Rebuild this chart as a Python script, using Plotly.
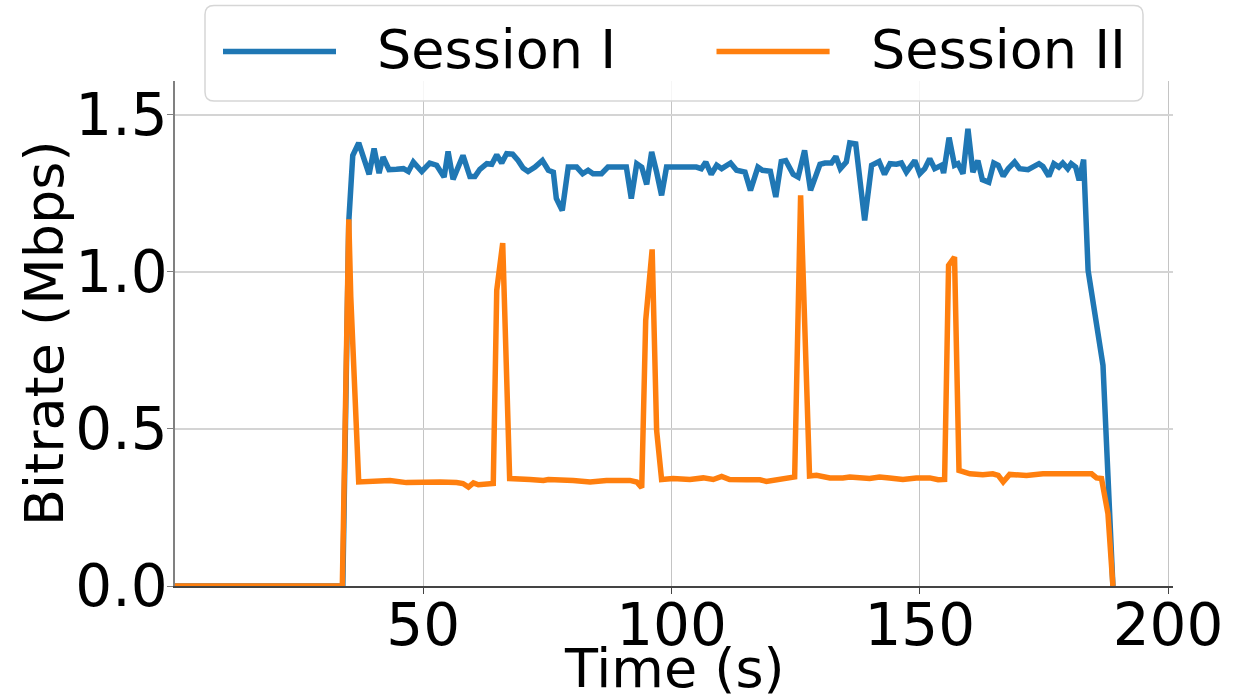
import plotly.graph_objects as go

# ---- data ----
time_s1 = [0, 33.8, 35.0, 35.8, 37.0, 39.1, 40.1, 41.1, 41.9, 43.1, 44.6, 46.0, 47.0, 48.0,
           49.7, 51.3, 52.7, 54.2, 55.0, 56.0, 58.0, 59.4, 60.4, 61.4, 62.8, 63.8, 64.8, 65.8,
           66.8, 68.0, 69.1, 70.1, 71.1, 72.5, 74.0, 75.2, 76.2, 76.8, 78.0, 79.2, 80.9, 82.1,
           83.2, 84.2, 85.9, 87.2, 90.9, 91.9, 93.0, 94.0, 95.0, 96.0, 97.0, 98.0, 99.0, 105.0,
           106.0, 106.9, 108.0, 109.1, 110.1, 111.9, 113.1, 114.8, 115.9, 117.4, 118.3, 119.1,
           119.9, 121.0, 122.1, 123.0, 124.5, 125.5, 126.8, 128.0, 129.9, 130.9, 132.2, 133.1,
           134.0, 135.2, 135.9, 137.1, 138.9, 140.3, 141.8, 142.9, 144.0, 145.3, 146.3, 147.3,
           149.0, 150.0, 151.0, 152.0, 153.0, 154.4, 154.8, 155.9, 157.0, 157.7, 158.7, 159.7,
           160.7, 161.7, 162.6, 163.9, 164.9, 165.8, 166.8, 167.8, 169.1, 170.1, 171.8, 174.0,
           174.8, 176.0, 177.0, 178.0, 178.8, 179.8, 180.5, 181.4, 182.1, 183.0, 183.9, 186.9,
           188.9]
rate_s1 = [0, 0, 1.16, 1.37, 1.41, 1.31, 1.392, 1.314, 1.365, 1.325, 1.326, 1.328, 1.319, 1.349,
           1.319, 1.346, 1.339, 1.301, 1.383, 1.294, 1.37, 1.303, 1.303, 1.326, 1.344, 1.342,
           1.372, 1.346, 1.376, 1.374, 1.354, 1.33, 1.319, 1.333, 1.354, 1.323, 1.317, 1.233,
           1.195, 1.333, 1.333, 1.312, 1.323, 1.312, 1.312, 1.333, 1.333, 1.233, 1.344, 1.333,
           1.278, 1.381, 1.317, 1.243, 1.333, 1.333, 1.328, 1.349, 1.31, 1.339, 1.328, 1.346,
           1.323, 1.317, 1.259, 1.333, 1.323, 1.32, 1.32, 1.238, 1.351, 1.354, 1.31, 1.301,
           1.386, 1.259, 1.342, 1.346, 1.346, 1.367, 1.328, 1.349, 1.41, 1.407, 1.163, 1.339,
           1.351, 1.31, 1.344, 1.342, 1.346, 1.317, 1.354, 1.312, 1.328, 1.36, 1.328, 1.339,
           1.314, 1.427, 1.339, 1.344, 1.312, 1.455, 1.317, 1.354, 1.293, 1.285, 1.346, 1.339,
           1.304, 1.328, 1.349, 1.328, 1.325, 1.344, 1.335, 1.304, 1.344, 1.333, 1.346, 1.328,
           1.344, 1.333, 1.291, 1.357, 1.004, 0.702, 0]

time_s2 = [0, 33.7, 35.0, 35.4, 37.0, 39.9, 43.3, 46.6, 50.0, 53.4, 56.7, 58.0, 59.1, 60.1,
           61.1, 64.1, 64.8, 66.0, 67.4, 68.8, 71.5, 74.2, 75.2, 80.2, 83.6, 86.9, 91.6, 93.0,
           94.0, 94.8, 96.1, 97.0, 98.0, 100.3, 103.7, 106.4, 108.4, 110.1, 111.7, 115.1, 117.8,
           119.1, 122.5, 124.8, 126.0, 127.8, 129.2, 131.9, 134.5, 135.9, 139.9, 141.9, 143.9,
           146.6, 149.3, 152.0, 153.7, 155.0, 155.8, 157.0, 157.9, 160.1, 162.7, 164.7, 165.8,
           166.8, 168.1, 171.5, 174.8, 178.2, 181.5, 184.6, 185.6, 186.6, 187.9, 188.9]
rate_s2 = [0, 0, 1.167, 0.92, 0.331, 0.333, 0.336, 0.329, 0.331, 0.331, 0.329, 0.326, 0.315,
           0.328, 0.322, 0.326, 0.941, 1.091, 0.342, 0.342, 0.339, 0.336, 0.339, 0.336, 0.331,
           0.336, 0.336, 0.331, 0.313, 0.845, 1.071, 0.495, 0.339, 0.342, 0.339, 0.344, 0.339,
           0.349, 0.339, 0.338, 0.338, 0.333, 0.339, 0.347, 1.243, 0.35, 0.352, 0.344, 0.344,
           0.347, 0.342, 0.347, 0.344, 0.339, 0.344, 0.344, 0.338, 0.339, 1.02, 1.047, 0.368,
           0.357, 0.354, 0.357, 0.352, 0.331, 0.355, 0.352, 0.357, 0.355, 0.357, 0.357, 0.344,
           0.342, 0.23, 0]

series_names = ["Session I", "Session II"]
series_colors = ["#1f77b4", "#ff7f0e"]
x_ticks = [50, 100, 150, 200]
y_ticks = [0.0, 0.5, 1.0, 1.5]
x_title = "Time (s)"
y_title = "Bitrate (Mbps)"

# ---- figure ----
W, H = 1239, 700
L, R, T, B = 175, 66, 81, 114
FONT = "DejaVu Sans"

fig = go.Figure()
for t, v, name, col in zip([time_s1, time_s2], [rate_s1, rate_s2], series_names, series_colors):
    fig.add_trace(go.Scatter(x=t, y=v, mode="lines", name=name,
                             line=dict(color=col, width=5.5), showlegend=False))

fig.update_layout(
    width=W, height=H,
    margin=dict(l=L, r=R, t=T, b=B, autoexpand=False),
    paper_bgcolor="white", plot_bgcolor="white",
    font=dict(family=FONT, color="black"),
)
fig.update_xaxes(range=[0, 201], tickvals=x_ticks, showgrid=True, gridcolor="#c4c4c4",
                 gridwidth=1, showline=True, linecolor="#444444", linewidth=1.6,
                 ticks="outside", ticklen=6, tickcolor="#444444", tickwidth=1.3,
                 zeroline=False, automargin=False, ticklabelstandoff=-18,
                 tickfont=dict(size=58, family=FONT))
fig.update_yaxes(range=[0, 1.607], tickvals=y_ticks, tickformat=".1f", showgrid=True,
                 gridcolor="#d4d4d4", gridwidth=1.5, showline=True, linecolor="#808080",
                 linewidth=1.6, ticks="outside", ticklen=6, tickcolor="#808080", tickwidth=1.3,
                 zeroline=False, automargin=False, ticklabelstandoff=-12,
                 tickfont=dict(size=58, family=FONT))

pw, ph = W - L - R, H - T - B
def px(x):
    return (x - L) / pw
def py(y):
    return (H - B - y) / ph

# axis titles
fig.add_annotation(text=x_title, xref="paper", yref="paper", x=px(674), y=py(668),
                   xanchor="center", yanchor="middle", showarrow=False,
                   font=dict(size=54, family=FONT, color="black"))
fig.add_annotation(text=y_title, xref="paper", yref="paper", x=px(44), y=py(333),
                   xanchor="center", yanchor="middle", showarrow=False, textangle=-90,
                   font=dict(size=54, family=FONT, color="black"))

# ---- legend (drawn in paper coordinates) ----
bx0, bx1, by0, by1, rr = 205, 1143, 5.5, 101, 9
rx, ry = rr / pw, rr / ph
X0, X1, Y0, Y1 = px(bx0), px(bx1), py(by1), py(by0)
path = (f"M{X0+rx},{Y0} L{X1-rx},{Y0} Q{X1},{Y0} {X1},{Y0+ry} L{X1},{Y1-ry} "
        f"Q{X1},{Y1} {X1-rx},{Y1} L{X0+rx},{Y1} Q{X0},{Y1} {X0},{Y1-ry} "
        f"L{X0},{Y0+ry} Q{X0},{Y0} {X0+rx},{Y0} Z")
fig.add_shape(type="path", path=path, xref="paper", yref="paper",
              line=dict(color="#d6d6d6", width=1.5), fillcolor="rgba(255,255,255,0.85)",
              layer="above")
legend_items = [(223, 336, 378), (716.5, 829.6, 872)]
for (l0, l1, tx), name, col in zip(legend_items, series_names, series_colors):
    fig.add_shape(type="line", xref="paper", yref="paper", x0=px(l0), x1=px(l1),
                  y0=py(51.5), y1=py(51.5), line=dict(color=col, width=5.5), layer="above")
    fig.add_annotation(text=name, xref="paper", yref="paper", x=px(tx - 3), y=py(50),
                       xanchor="left", yanchor="middle", showarrow=False,
                       font=dict(size=54, family=FONT, color="black"))

fig.write_html("out.html")
